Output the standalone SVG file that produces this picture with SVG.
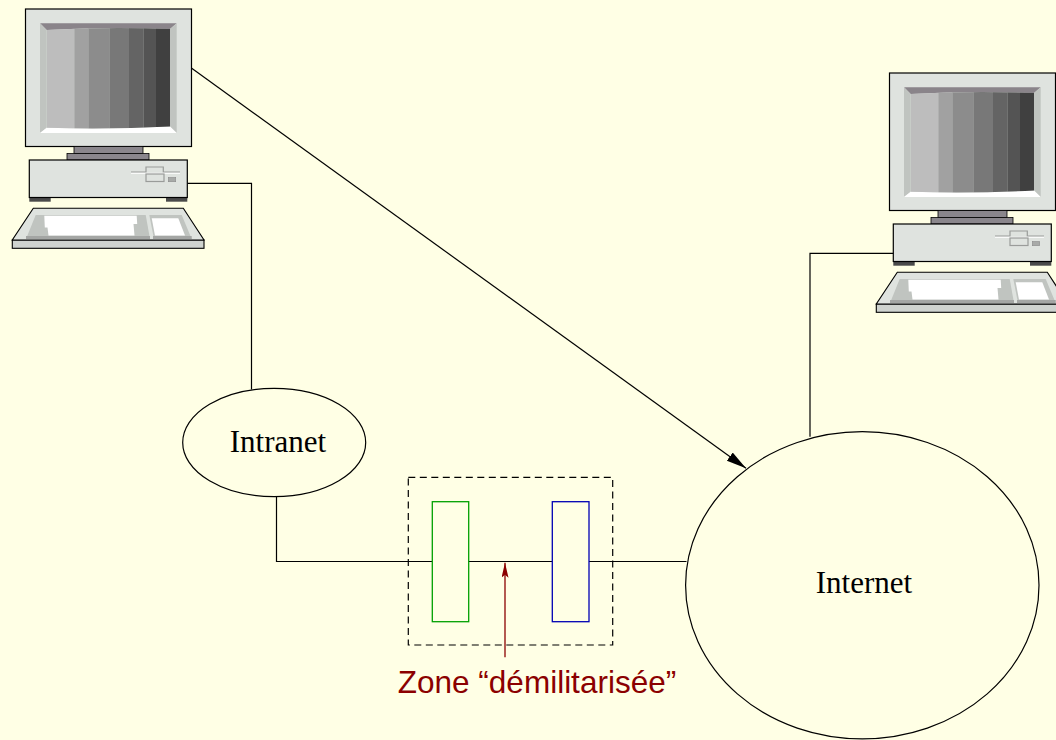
<svg xmlns="http://www.w3.org/2000/svg" xmlns:xlink="http://www.w3.org/1999/xlink" width="1056" height="740" viewBox="0 0 1056 740">
  <style>
    .bg { fill: #ffffe5; }
    .wire { fill: none; stroke: #000; stroke-width: 1.2; }
    .net { fill: none; stroke: #000; stroke-width: 1.2; }
    .netlabel { font-family: "Liberation Serif", "Times New Roman", serif; font-size: 31px; fill: #000; text-anchor: middle; }
    .zone { fill: none; stroke: #000; stroke-width: 1.2; stroke-dasharray: 7 4.5; }
    .fw-green { fill: none; stroke: #00a000; stroke-width: 1.3; }
    .fw-blue { fill: none; stroke: #0000b4; stroke-width: 1.3; }
    .note { font-family: "Liberation Sans", Arial, sans-serif; font-size: 31.5px; fill: #8b0000; text-anchor: middle; }
    .note-line { fill: none; stroke: #8b0000; stroke-width: 1.3; }
    .case { fill: #dfe3df; stroke: #000; stroke-width: 1.2; }
    .stand { fill: #8a868c; stroke: #000; stroke-width: 0.8; }
    .detail { fill: none; stroke: #9a9c9a; stroke-width: 1.2; }
  </style>
  <defs>
    <marker id="arrow-black" markerUnits="userSpaceOnUse" markerWidth="22" markerHeight="12" refX="20" refY="5" orient="auto">
      <path d="M0,0 L20,5 L0,10 Z" fill="#000"/>
    </marker>
    <marker id="arrow-red" markerUnits="userSpaceOnUse" markerWidth="18" markerHeight="10" refX="15" refY="3.5" orient="auto">
      <path d="M0,0 L15,3.5 L0,7 L3,3.5 Z" fill="#8b0000"/>
    </marker>

    <!-- desktop computer: monitor, system unit, keyboard -->
    <g id="pc">
      <!-- monitor -->
      <rect class="case" x="25.5" y="9" width="166" height="137.5"/>
      <!-- screen bevels -->
      <path d="M40,23.3 L176.7,23.3 L170,29 Q108,26.5 46.7,30 Z" fill="#8a848a"/>
      <path d="M40,23.3 L46.7,30 L46.7,127.7 L40,133 Z" fill="#c0c4c0"/>
      <path d="M176.7,23.3 L170,29 L170,126.5 L176.7,133 Z" fill="#c0c4c0"/>
      <path d="M40,133 L176.7,133 L170,126.5 Q108,129.5 46.7,127.7 Z" fill="#ffffff"/>
      <!-- screen shading bands -->
      <clipPath id="screen-clip">
        <path d="M46.7,30 Q108,26.5 170,29 L170,126.5 Q108,129.5 46.7,127.7 Z"/>
      </clipPath>
      <g clip-path="url(#screen-clip)">
        <rect x="46.7" y="25" width="27.6" height="106" fill="#bdbdbd"/>
        <rect x="74.3" y="25" width="14" height="106" fill="#a1a1a1"/>
        <rect x="88.3" y="25" width="21" height="106" fill="#8c8c8c"/>
        <rect x="109.3" y="25" width="19.7" height="106" fill="#787878"/>
        <rect x="129" y="25" width="14.3" height="106" fill="#646464"/>
        <rect x="143.3" y="25" width="12.7" height="106" fill="#545454"/>
        <rect x="156" y="25" width="14" height="106" fill="#404040"/>
      </g>
      <!-- stand -->
      <rect class="stand" x="74" y="146.5" width="69" height="7"/>
      <rect class="stand" x="67" y="153.5" width="82" height="6.5"/>
      <!-- system unit -->
      <rect x="29.3" y="197" width="21.4" height="4.7" fill="#4a4a4a"/>
      <rect x="166" y="197" width="21.3" height="4.7" fill="#4a4a4a"/>
      <rect class="case" x="29.3" y="160" width="158" height="37.5"/>
      <!-- drive bay -->
      <path class="detail" d="M131,172 L146,172 L146,167 L163.3,167 L163.3,172 L180,172"/>
      <path d="M131,173.3 L180,173.3" stroke="#ffffff" stroke-width="1"/>
      <rect class="detail" x="146" y="174" width="18" height="7.5"/>
      <rect x="168.3" y="177.5" width="7.4" height="4.2" fill="#a8aaa8" stroke="#8a8a8a" stroke-width="0.6"/>
      <!-- keyboard -->
      <rect x="12.3" y="240" width="191.7" height="8.3" fill="#cfd3cf" stroke="#000" stroke-width="1.1"/>
      <path d="M33.3,208.3 L183.3,208.3 L204,240 L12.3,240 Z" fill="#dfe3df" stroke="#000" stroke-width="1.1"/>
      <path d="M35.7,215 L145.7,215 L150,239 L26,239 Z" fill="#c0c4c0"/>
      <rect x="26" y="236" width="124" height="3" fill="#a4a6a4"/>
      <path d="M44.3,215.7 L136.7,215.7 L137.2,224 L133.5,224 L134.5,235.5 L48.5,235.5 L47.5,227.5 L44.8,227.5 Z" fill="#ffffff"/>
      <path d="M149.3,215 L181.7,215 L191.7,239 L154,239 Z" fill="#c0c4c0"/>
      <rect x="153" y="236" width="38.7" height="3" fill="#a4a6a4"/>
      <path d="M151.7,218.3 L178.3,218.3 L185,235.5 L155,235.5 Z" fill="#ffffff"/>
    </g>
  </defs>

  <rect class="bg" x="0" y="0" width="1056" height="740"/>

  <!-- connectors -->
  <g id="connectors">
    <polyline class="wire" points="187.3,183.3 251.5,183.3 251.5,389.5"/>
    <polyline class="wire" points="276.5,496.5 276.5,561.5 432.3,561.5"/>
    <line class="wire" x1="468.7" y1="561.5" x2="552.3" y2="561.5"/>
    <line class="wire" x1="589" y1="561.5" x2="686.5" y2="561.5"/>
    <polyline class="wire" points="894,253.3 810,253.3 810,436.7"/>
    <line class="wire" x1="191.7" y1="68.3" x2="746" y2="468.3" marker-end="url(#arrow-black)"/>
  </g>

  <!-- nodes -->
  <g id="pc-intranet">
    <use xlink:href="#pc" href="#pc"/>
  </g>
  <g id="pc-internet">
    <use xlink:href="#pc" href="#pc" transform="translate(864,64)"/>
  </g>

  <g id="intranet">
    <ellipse class="net" cx="274.2" cy="442.5" rx="91.5" ry="54.2"/>
    <text class="netlabel" x="278" y="451.5">Intranet</text>
  </g>

  <g id="internet">
    <ellipse class="net" cx="862.3" cy="585.3" rx="176.7" ry="153.6"/>
    <text class="netlabel" x="864" y="593.3">Internet</text>
  </g>

  <g id="dmz">
    <rect class="zone" x="408.3" y="477.3" width="204.4" height="167.7"/>
  </g>

  <g id="firewall-inner">
    <rect class="fw-green" x="432.3" y="501.7" width="36.4" height="120"/>
  </g>

  <g id="firewall-outer">
    <rect class="fw-blue" x="552.3" y="501.7" width="36.7" height="120"/>
  </g>

  <g id="dmz-label">
    <line class="note-line" x1="505" y1="657.3" x2="505" y2="562.7" marker-end="url(#arrow-red)"/>
    <text class="note" x="537" y="692.7">Zone “démilitarisée”</text>
  </g>
</svg>
